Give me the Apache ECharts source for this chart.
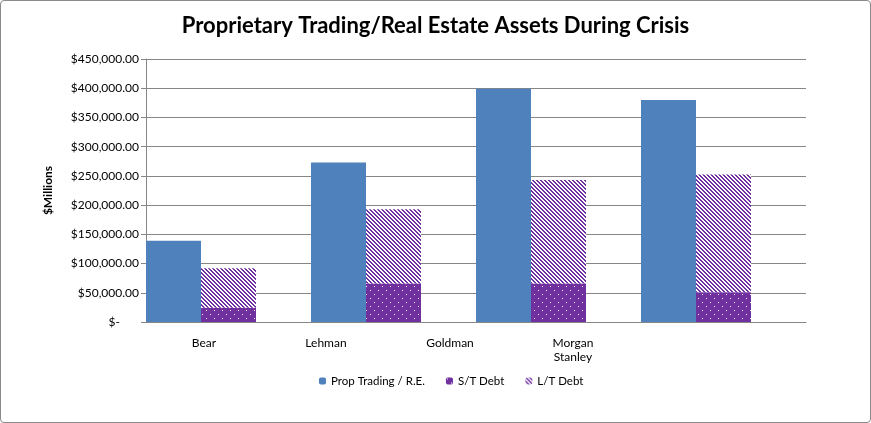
<!DOCTYPE html>
<html>
<head>
<meta charset="utf-8">
<script src="https://cdn.jsdelivr.net/npm/echarts@6/dist/echarts.min.js"></script>
<style>
html,body{margin:0;padding:0;background:#fff;}
#c{width:871px;height:423px;box-sizing:border-box;border:1px solid #8a8a8a;border-radius:4px;}
</style>
</head>
<body>
<div id="c"></div>
<script>
var categories = ['Bear', 'Lehman', 'Goldman', 'Morgan\nStanley'];
var propTrading = [139000, 273000, 399000, 380000];
var stDebt = [24500, 66000, 66000, 51000];
var ltDebt = [67500, 127000, 177000, 201500];
var yTicks = { min: 0, max: 450000, interval: 50000 };
var seriesNames = ['Prop Trading / R.E.', 'S/T Debt', 'L/T Debt'];

var BLUE = '#4F81BD', PURPLE = '#7030A0';

function dotPattern() {
  var c = document.createElement('canvas'); c.width = 8; c.height = 8;
  var g = c.getContext('2d');
  g.fillStyle = PURPLE; g.fillRect(0, 0, 8, 8);
  g.fillStyle = '#fff'; g.fillRect(1, 1, 1, 1); g.fillRect(5, 5, 1, 1);
  return { image: c, repeat: 'repeat' };
}
function stripePattern() {
  var c = document.createElement('canvas'); c.width = 4; c.height = 4;
  var g = c.getContext('2d');
  g.fillStyle = '#fff'; g.fillRect(0, 0, 4, 4);
  g.fillStyle = PURPLE;
  for (var y = 0; y < 4; y++) for (var x = 0; x < 4; x++) {
    var m = ((x - y) % 4 + 4) % 4;
    if (m === 0 || m === 1) g.fillRect(x, y, 1, 1);
  }
  return { image: c, repeat: 'repeat' };
}

var labelPad = [49, 135, 217, 301];
var rich = {};
labelPad.forEach(function (p, i) {
  rich['c' + i] = { padding: [0, p, 0, 0], fontFamily: 'Lato', fontSize: 12, color: '#000', lineHeight: 14, align: 'center' };
});

var chart = echarts.init(document.getElementById('c'));
chart.setOption({
  animation: false,
  title: {
    text: 'Proprietary Trading/Real Estate Assets During Crisis',
    left: 'center', top: 9,
    textStyle: { fontFamily: 'Lato', fontWeight: 'bold', fontSize: 22, color: '#000' }
  },
  legend: {
    data: seriesNames,
    bottom: 30, left: 313,
    itemWidth: 7, itemHeight: 7, itemGap: 21,
    textStyle: { fontFamily: 'Lato', fontSize: 11.5, color: '#000' }
  },
  grid: { left: 145, right: 64, top: 58, bottom: 100, containLabel: false, outerBoundsMode: 'none' },
  xAxis: {
    type: 'category', data: categories,
    axisLine: { lineStyle: { color: '#868686' } },
    axisTick: { show: false },
    axisLabel: {
      interval: 0, margin: 14, hideOverlap: false,
      formatter: function (v, i) {
        return v.split('\n').map(function (s) { return '{c' + i + '|' + s + '}'; }).join('\n');
      },
      rich: rich
    }
  },
  yAxis: {
    type: 'value', min: yTicks.min, max: yTicks.max, interval: yTicks.interval,
    name: '$Millions', nameLocation: 'middle', nameRotate: 90, nameGap: 92,
    nameTextStyle: { fontFamily: 'Lato', fontWeight: 'bold', fontSize: 12, color: '#000' },
    axisLine: { show: true, lineStyle: { color: '#868686' } },
    axisTick: { show: true, length: 5, lineStyle: { color: '#868686' } },
    splitLine: { lineStyle: { color: '#868686' } },
    axisLabel: {
      margin: 7, fontFamily: 'Lato', fontSize: 12, color: '#000',
      formatter: function (v) {
        if (v === 0) return '{z|$-}';
        return '$' + v.toLocaleString('en-US', { minimumFractionDigits: 2, maximumFractionDigits: 2 });
      },
      rich: { z: { padding: [0, 19, 0, 0], fontFamily: 'Lato', fontSize: 12, color: '#000' } }
    }
  },
  series: [
    { name: seriesNames[0], type: 'bar', data: propTrading, barGap: '0%', barCategoryGap: '0%', itemStyle: { color: BLUE } },
    { name: seriesNames[1], type: 'bar', stack: 'debt', data: stDebt, itemStyle: { color: dotPattern() } },
    { name: seriesNames[2], type: 'bar', stack: 'debt', data: ltDebt, itemStyle: { color: stripePattern() } },
    { name: 'spacer', type: 'bar', data: [null, null, null, null], silent: true }
  ]
});
</script>
</body>
</html>
